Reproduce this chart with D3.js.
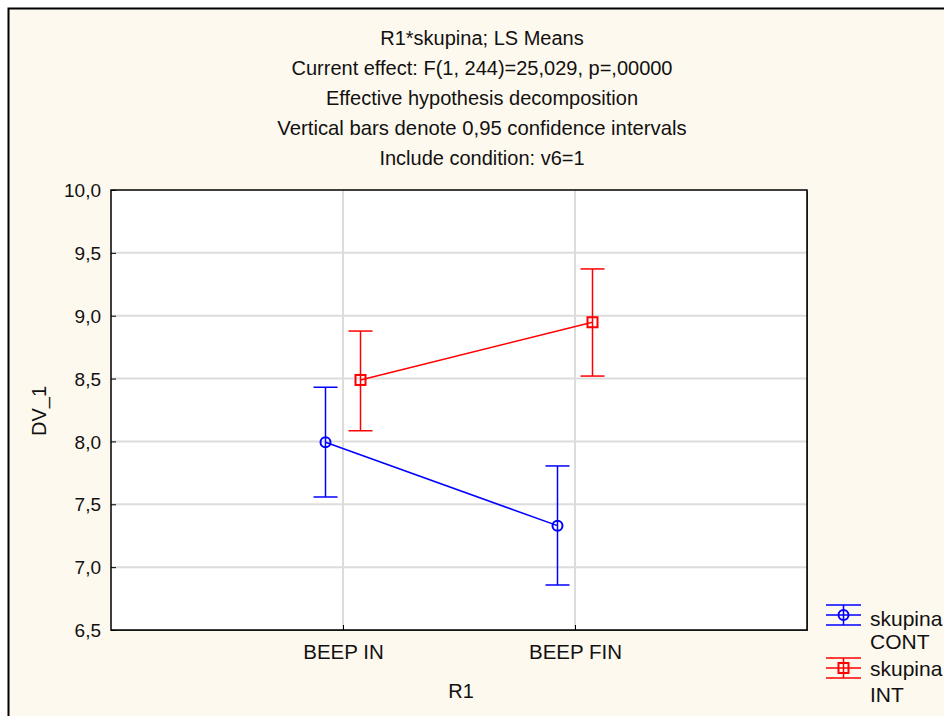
<!DOCTYPE html>
<html><head><meta charset="utf-8">
<script src="https://cdn.jsdelivr.net/npm/d3@7"></script>
<style>body{margin:0;background:#fff}svg{display:block}text{font-family:"Liberation Sans",Arial,sans-serif;fill:#111}</style>
</head><body>
<script>
const titleLines = ["R1*skupina; LS Means","Current effect: F(1, 244)=25,029, p=,00000","Effective hypothesis decomposition","Vertical bars denote 0,95 confidence intervals","Include condition: v6=1"];
const categories = ["BEEP IN","BEEP FIN"];
const groups = ["CONT","INT"];
const contMean = [7.993, 7.33];
const contUpper = [8.431, 7.805];
const contLower = [7.558, 6.858];
const intMean = [8.489, 8.948];
const intUpper = [8.878, 9.372];
const intLower = [8.085, 8.52];
const yTicks = [6.5,7.0,7.5,8.0,8.5,9.0,9.5,10.0];
const xLabel = "R1", yLabel = "DV_1", legendTitle = "skupina";

const W=944,H=716;
const FS=20;
const svg=d3.select("body").append("svg").attr("width",W).attr("height",H);
svg.append("rect").attr("x",8.5).attr("y",8.5).attr("width",W).attr("height",H).attr("fill","#FEF9EE").attr("stroke","#000").attr("stroke-width",2);

const L=111,T=190,R=807,B=630;
const x=d3.scaleLinear().domain([0,3]).range([L,R]);
const y=d3.scaleLinear().domain([6.5,10]).range([B,T]);
svg.append("rect").attr("x",L+1).attr("y",T+1).attr("width",R-L).attr("height",B-T).attr("fill","#555");
svg.append("rect").attr("x",L).attr("y",T).attr("width",R-L).attr("height",B-T).attr("fill","#fff");

const g=svg.append("g");
yTicks.slice(1,-1).forEach(t=>g.append("line").attr("x1",L).attr("x2",R).attr("y1",y(t)).attr("y2",y(t)).attr("stroke","#dcdcdc").attr("stroke-width",2));
categories.forEach((c,i)=>g.append("line").attr("x1",x(i+1)).attr("x2",x(i+1)).attr("y1",T).attr("y2",B).attr("stroke","#dcdcdc").attr("stroke-width",2));

const yAxis=d3.axisLeft(y).tickValues(yTicks).tickSize(-5).tickPadding(10).tickFormat(d=>d3.format(".1f")(d).replace(".",","));
const ya=svg.append("g").attr("transform",`translate(${L},0)`).call(yAxis);
ya.select(".domain").remove();
ya.selectAll("line").attr("stroke","#000");
ya.selectAll("text").attr("font-size",19).attr("font-family","Liberation Sans, Arial").attr("fill","#111").attr("dy","0.35em");

const xAxis=d3.axisBottom(x).tickValues([1,2]).tickSize(-5).tickPadding(14).tickFormat(d=>categories[d-1]);
const xa=svg.append("g").attr("transform",`translate(0,${B})`).call(xAxis);
xa.select(".domain").remove();
xa.selectAll("line").attr("stroke","#000");
xa.selectAll("text").attr("font-size",20.5).attr("font-family","Liberation Sans, Arial").attr("fill","#111").attr("y",29).attr("dy",0);

svg.append("rect").attr("x",L).attr("y",T).attr("width",R-L).attr("height",B-T).attr("fill","none").attr("stroke","#000").attr("stroke-width",1.5);

const series=[
 {name:groups[0],mean:contMean,up:contUpper,lo:contLower,color:"#0000ff",off:-17.5,shape:"circle"},
 {name:groups[1],mean:intMean,up:intUpper,lo:intLower,color:"#ff0000",off:17.5,shape:"square"}];
series.forEach(s=>{
  const px=i=>x(i+1)+s.off;
  svg.append("path").attr("d",d3.line().x((d,i)=>px(i)).y(d=>y(d))(s.mean)).attr("fill","none").attr("stroke",s.color).attr("stroke-width",1.5);
  s.mean.forEach((m,i)=>{
    const cx=px(i);
    svg.append("line").attr("x1",cx).attr("x2",cx).attr("y1",y(s.up[i])).attr("y2",y(s.lo[i])).attr("stroke",s.color).attr("stroke-width",1.5);
    [s.up[i],s.lo[i]].forEach(v=>svg.append("line").attr("x1",cx-12).attr("x2",cx+12).attr("y1",y(v)).attr("y2",y(v)).attr("stroke",s.color).attr("stroke-width",1.5));
    if(s.shape==="circle") svg.append("circle").attr("cx",cx).attr("cy",y(m)).attr("r",5).attr("fill","none").attr("stroke",s.color).attr("stroke-width",2);
    else svg.append("rect").attr("x",cx-5).attr("y",y(m)-5).attr("width",10).attr("height",10).attr("fill","none").attr("stroke",s.color).attr("stroke-width",2);
  });
});

const tg=svg.append("g");
titleLines.forEach((t,i)=>tg.append("text").attr("x",482).attr("y",45+i*30).attr("text-anchor","middle").attr("font-size",i===3?20.3:FS).text(t));
svg.append("text").attr("x",461).attr("y",698).attr("text-anchor","middle").attr("font-size",FS).text(xLabel);
svg.append("text").attr("transform","translate(46,411) rotate(-90)").attr("text-anchor","middle").attr("font-size",FS).text(yLabel);

const legY=[[615,626,649],[668,676,702]];
series.forEach((s,i)=>{
  const cy=legY[i][0], x0=826, x1=861, cx=(x0+x1)/2;
  [-10,0,10].forEach(dy=>svg.append("line").attr("x1",x0).attr("x2",x1).attr("y1",cy+dy).attr("y2",cy+dy).attr("stroke",s.color).attr("stroke-width",1.5));
  svg.append("line").attr("x1",cx).attr("x2",cx).attr("y1",cy-10).attr("y2",cy+10).attr("stroke",s.color).attr("stroke-width",1.5);
  if(s.shape==="circle") svg.append("circle").attr("cx",cx).attr("cy",cy).attr("r",5).attr("fill","none").attr("stroke",s.color).attr("stroke-width",2);
  else svg.append("rect").attr("x",cx-5).attr("y",cy-5).attr("width",10).attr("height",10).attr("fill","none").attr("stroke",s.color).attr("stroke-width",2);
  svg.append("text").attr("x",870).attr("y",legY[i][1]).attr("font-size",21).text(legendTitle);
  svg.append("text").attr("x",870).attr("y",legY[i][2]).attr("font-size",21).text(s.name);
});
</script>
</body></html>
